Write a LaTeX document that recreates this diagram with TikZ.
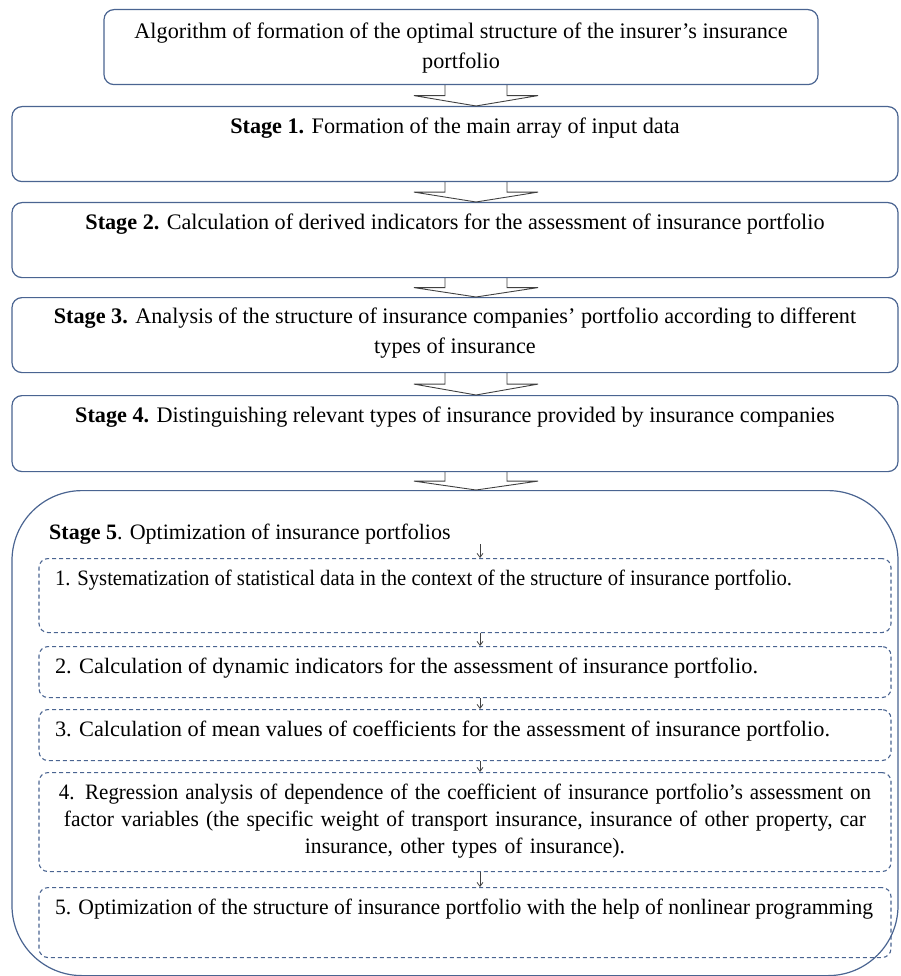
\documentclass[tikz,border=0pt]{standalone}
\usepackage{fontspec}
\usepackage{graphicx}
\setmainfont{Liberation Serif}
\usetikzlibrary{arrows.meta,calc}
\definecolor{boxblue}{HTML}{4A6491}
\definecolor{arrgray}{HTML}{404040}
\newcommand\fitline[2]{\resizebox{#1}{\height}{#2}}
\tikzset{
  stagebox/.style={draw=boxblue, line width=1.2pt, rounded corners=10pt, inner sep=0pt,
    minimum width=886pt, align=center, font=\fontsize{22.2}{30}\selectfont,
    text height=27pt, anchor=north},
  dashbox/.style={draw=boxblue, line width=1.1pt, dash pattern=on 4pt off 3pt,
    rounded corners=9pt, inner ysep=0pt, inner xsep=16pt, text width=820pt,
    font=\fontsize{22}{27}\selectfont, text height=27pt, anchor=north},
  blockarr/.style={draw=arrgray, line width=0.9pt, line join=miter},
  smallarr/.style={draw=arrgray, line width=0.8pt, -{Straight Barb[length=4pt,width=6pt]}},
}
\newcommand\blockarrow[2]{%
  \draw[blockarr] let \p1=(#1.south), \p2=(#2.north), \p3=(ax) in
    (\x3-31pt,\y1) -- (\x3-31pt,{(\y1+\y2)/2}) -- (\x3-62pt,{(\y1+\y2)/2}) -- (\x3,\y2)
    -- (\x3+62pt,{(\y1+\y2)/2}) -- (\x3+31pt,{(\y1+\y2)/2}) -- (\x3+31pt,\y1);}
\begin{document}
\begin{tikzpicture}[x=1pt,y=-1pt]
\useasboundingbox (0,0) rectangle (900,976);
\coordinate (ax) at (476,0);
\coordinate (sx) at (480,0);

\node[stagebox, minimum width=714pt, text height=59pt, text depth=16pt] (top) at (461,9)
  {Algorithm of formation of the optimal structure of the insurer’s insurance\\portfolio};
\node[stagebox, text depth=48pt] (s1) at (455,106)
  {\textbf{Stage 1.} Formation of the main array of input data};
\node[stagebox, text depth=48pt] (s2) at (455,202)
  {\textbf{Stage 2.} Calculation of derived indicators for the assessment of insurance portfolio};
\node[stagebox, text height=56pt, text depth=19pt] (s3) at (455,297)
  {\textbf{Stage 3.} Analysis of the structure of insurance companies’ portfolio according to different\\types of insurance};
\node[stagebox, text depth=49pt] (s4) at (455,395)
  {\textbf{Stage 4.} Distinguishing relevant types of insurance provided by insurance companies};
\node[draw=boxblue, line width=1.2pt, rounded corners=70pt, minimum width=886pt,
  minimum height=485pt, anchor=north, inner sep=0pt] (s5) at (455,490) {};

\node[anchor=base west, inner sep=0pt, font=\fontsize{22}{27}\selectfont] (s5t) at (49,539)
  {\textbf{Stage 5}. Optimization of insurance portfolios};
\coordinate (s5a) at (480,544);

\node[dashbox, align=flush left, text depth=47pt] (d1) at (465,558)
  {\fitline{737pt}{1. Systematization of statistical data in the context of the structure of insurance portfolio.}};
\node[dashbox, align=flush left, text depth=24pt] (d2) at (465,646)
  {\fitline{703pt}{2. Calculation of dynamic indicators for the assessment of insurance portfolio.}};
\node[dashbox, align=flush left, text depth=24pt] (d3) at (465,709)
  {\fitline{775pt}{3. Calculation of mean values of coefficients for the assessment of insurance portfolio.}};
\node[dashbox, align=center, text height=27pt, text depth=72pt] (d4) at (465,772)
  {\fitline{812pt}{4. Regression analysis of dependence of the coefficient of insurance portfolio’s assessment on}\\
   \fitline{802pt}{factor variables (the specific weight of transport insurance, insurance of other property, car}\\
   \fitline{320pt}{insurance, other types of insurance).}};
\node[dashbox, align=flush left, text depth=43pt] (d5) at (465,887)
  {\fitline{818pt}{5. Optimization of the structure of insurance portfolio with the help of nonlinear programming}};

\blockarrow{top}{s1}
\blockarrow{s1}{s2}
\blockarrow{s2}{s3}
\blockarrow{s3}{s4}
\blockarrow{s4}{s5}

\draw[smallarr] (s5a) -- (d1.north -| sx);
\draw[smallarr] (d1.south -| sx) -- (d2.north -| sx);
\draw[smallarr] (d2.south -| sx) -- (d3.north -| sx);
\draw[smallarr] (d3.south -| sx) -- (d4.north -| sx);
\draw[smallarr] (d4.south -| sx) -- (d5.north -| sx);
\end{tikzpicture}
\end{document}
